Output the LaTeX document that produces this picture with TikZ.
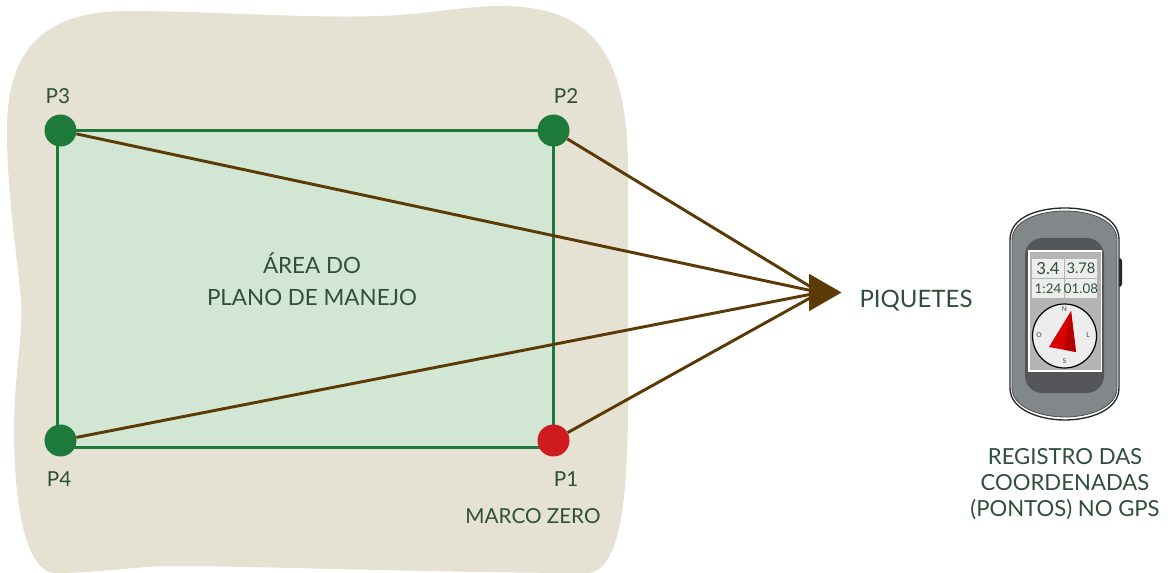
\documentclass[tikz,border=0pt]{standalone}
\usepackage{fontspec}
\setmainfont{Lato}
\usetikzlibrary{positioning, shapes.geometric}
\definecolor{terreno}{HTML}{E5E2D4}
\definecolor{areafill}{HTML}{D1E7D4}
\definecolor{verde}{HTML}{1E7A3A}
\definecolor{vermelho}{HTML}{CF1A1F}
\definecolor{marrom}{HTML}{5C3A06}
\definecolor{texto}{HTML}{2F4F3A}
\definecolor{carcaca}{HTML}{82878A}
\definecolor{moldura}{HTML}{55565A}
\definecolor{tela}{HTML}{B4B4B4}
\tikzset{
  ponto/.style={circle, fill=verde, inner sep=0pt, minimum size=24pt},
  rotulo/.style={text=texto, font=\fontsize{16.8}{24}\selectfont, inner sep=0pt, align=center},
  marca/.style={rotulo, font=\fontsize{15.5}{15.5}\selectfont},
  ligacao/.style={draw=marrom, line width=2.2pt},
  visor/.style={text=texto, font=\fontsize{11}{11}\selectfont, inner sep=0pt},
  rosa/.style={text=texto, font=\fontsize{5}{5}\selectfont, inner sep=0pt},
}

\begin{document}
\begin{tikzpicture}[x=0.75pt, y=-0.75pt]
  \useasboundingbox (0,0) rectangle (1170,573);
  % terreno
  \fill[terreno] (7,130) .. controls (7,65) and (30,11) .. (127,11)
    .. controls (220,11) and (320,20) .. (400,15)
    .. controls (430,13) and (470,6) .. (500,6)
    .. controls (590,6) and (628,50) .. (628,170)
    .. controls (628,260) and (628,340) .. (628,400)
    .. controls (628,490) and (622,573) .. (587,573)
    .. controls (450,573) and (250,566) .. (170,566)
    .. controls (140,566) and (100,573) .. (55,573)
    .. controls (30,573) and (14,520) .. (14,430)
    .. controls (14,370) and (25,330) .. (20,290)
    .. controls (15,240) and (7,190) .. (7,130) -- cycle;
  % area
  \node[draw=verde, fill=areafill, line width=2.2pt, minimum width=372pt, minimum height=238pt,
    inner sep=0pt] (area) at (305.5,289) {};
  \node[rotulo] (txtarea) at (312,279) {ÁREA DO\\PLANO DE MANEJO};

  \node[ponto] (p3) at (60.5,130.5) {};
  \node[ponto] (p2) at (553.5,130.5) {};
  \node[ponto] (p4) at (60.5,440.5) {};
  \node[ponto, fill=vermelho] (p1) at (553.5,440.5) {};

  \node[marca, above=8pt of p3, xshift=-2pt] (l3) {P3};
  \node[marca, above=8pt of p2, xshift=9.5pt] (l2) {P2};
  \node[marca, below=11pt of p4, xshift=-1pt] (l4) {P4};
  \node[marca, below=11pt of p1, xshift=9.5pt] (l1) {P1};
  \node[marca] (marco) at (533,516) {MARCO ZERO};

  % seta
  \node[isosceles triangle, isosceles triangle apex angle=60, fill=marrom, inner sep=0pt,
    minimum height=24pt, minimum width=28pt, anchor=apex] (seta) at (842,292.5) {};
  \draw[ligacao] (p3) -- (seta.center);
  \draw[ligacao] (p4) -- (seta.center);
  \draw[ligacao] (p2) -- (seta.center);
  \draw[ligacao] (p1) -- (seta.center);
  \node[rotulo, font=\fontsize{18}{18}\selectfont] (piquetes) at (916,301) {PIQUETES};

  % gps
  \fill[black!85, rounded corners=2.2pt] (1116,258) rectangle (1122,287);
  \draw[fill=white, draw=black!85, line width=1pt] (1010,240) .. controls (1010,216) and (1040,208) .. (1065,208)
    .. controls (1090,208) and (1119,216) .. (1119,240)
    -- (1119,388) .. controls (1119,410) and (1090,420) .. (1065,420)
    .. controls (1040,420) and (1010,410) .. (1010,388) -- cycle;
  \fill[carcaca, draw=black!70, line width=0.6pt] (1012,240) .. controls (1012,220) and (1040,211) .. (1065,211)
    .. controls (1090,211) and (1117,220) .. (1117,240)
    -- (1117,388) .. controls (1117,407) and (1090,417) .. (1065,417)
    .. controls (1040,417) and (1012,407) .. (1012,388) -- cycle;
  \fill[moldura, rounded corners=13pt] (1025,238) rectangle (1104,393);
  \fill[white] (1028,250) rectangle (1102,372);
  \fill[tela] (1029.5,252) rectangle (1100.5,370);
  \fill[black!7] (1032,259) rectangle (1097,298);
  \draw[tela, line width=0.7pt] (1064.5,259) -- (1064.5,298) (1032,278.5) -- (1097,278.5);
  \node[visor, font=\fontsize{12.5}{12.5}\selectfont] (v1) at (1048,268.5) {3.4};
  \node[visor] (v2) at (1081,268.5) {3.78};
  \node[visor, font=\fontsize{10}{10}\selectfont] (v3) at (1048,288.5) {1:24};
  \node[visor, font=\fontsize{10}{10}\selectfont] (v4) at (1081,288.5) {01.08};
  \draw[fill=black!7, draw=black, line width=0.9pt] (1064.5,336) circle (32);
  \fill[red!85!black] (1071,311) -- (1049,347) -- (1076,352) -- cycle;
  \fill[red!70!black] (1071,311) -- (1064,349.5) -- (1076,352) -- cycle;
  \node[rosa] (n) at (1064.5,309) {N};
  \node[rosa] (s) at (1064.5,361) {S};
  \node[rosa] (o) at (1039,335) {O};
  \node[rosa] (l) at (1088,335) {L};

  \node[rotulo, font=\fontsize{16.6}{19.5}\selectfont] (registro) at (1065,484) {REGISTRO DAS\\COORDENADAS\\(PONTOS) NO GPS};
\end{tikzpicture}
\end{document}
